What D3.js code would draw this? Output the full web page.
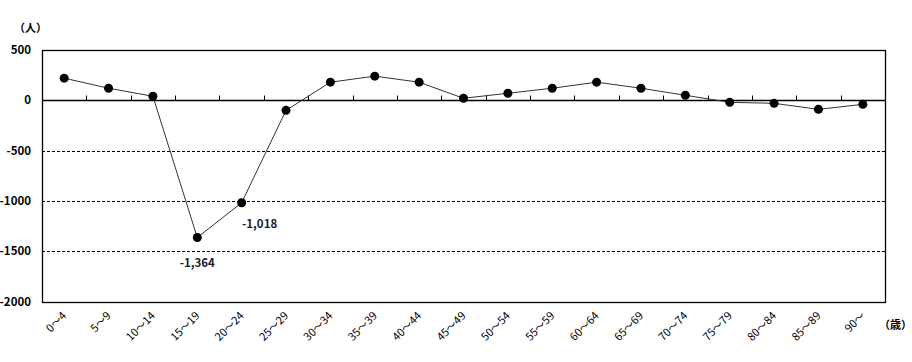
<!DOCTYPE html>
<html>
<head>
<meta charset="utf-8">
<script src="https://cdn.jsdelivr.net/npm/d3@7"></script>
<style>
body { margin: 0; background: #fff; }
text { font-family: "Noto Sans CJK JP", "DejaVu Sans", sans-serif; }
</style>
</head>
<body>
<div id="chart"></div>
<script>
const ageGroups = ["0～4", "5～9", "10～14", "15～19", "20～24", "25～29", "30～34", "35～39", "40～44",
    "45～49", "50～54", "55～59", "60～64", "65～69", "70～74", "75～79", "80～84", "85～89", "90～"];
const netChange = [220, 120, 40, -1364, -1018, -100, 180, 240, 180, 20, 70, 120, 180, 120, 50, -20, -30, -90, -40];
const yTicks = [500, 0, -500, -1000, -1500, -2000];
const gridValues = [-500, -1000, -1500];
const labelled = [3, 4];

const width = 912, height = 362;
const margin = {top: 50, right: 27, bottom: 60, left: 42};

const svg = d3.select("#chart")
    .append("svg")
    .attr("width", width)
    .attr("height", height);

const x = d3.scaleBand()
    .domain(ageGroups)
    .range([margin.left, width - margin.right]);

const y = d3.scaleLinear()
    .domain([-2000, 500])
    .range([height - margin.bottom - 0.5, margin.top]);

// dashed grid
svg.append("g")
    .selectAll("line")
    .data(gridValues)
    .join("line")
    .attr("x1", margin.left).attr("x2", width - margin.right)
    .attr("y1", d => Math.round(y(d)) + 0.5).attr("y2", d => Math.round(y(d)) + 0.5)
    .attr("stroke", "#000")
    .attr("stroke-dasharray", "3,2");

// frame
svg.append("rect")
    .attr("x", margin.left + 0.5)
    .attr("y", margin.top + 0.5)
    .attr("width", width - margin.left - margin.right)
    .attr("height", Math.round(y(-2000)) - margin.top)
    .attr("fill", "none")
    .attr("stroke", "#000")
    .attr("stroke-width", 1.3);

// zero line with ticks
const zeroY = Math.round(y(0)) + 0.5;
svg.append("line")
    .attr("x1", margin.left).attr("x2", width - margin.right)
    .attr("y1", zeroY).attr("y2", zeroY)
    .attr("stroke", "#000")
    .attr("stroke-width", 1.3);

svg.append("g")
    .selectAll("line")
    .data(ageGroups.slice(1))
    .join("line")
    .attr("x1", d => Math.round(x(d)) + 0.5).attr("x2", d => Math.round(x(d)) + 0.5)
    .attr("y1", zeroY - 5).attr("y2", zeroY)
    .attr("stroke", "#000");

// y labels
svg.append("g")
    .selectAll("text")
    .data(yTicks)
    .join("text")
    .attr("x", 31)
    .attr("y", d => y(d))
    .attr("dy", "0.35em")
    .attr("text-anchor", "end")
    .attr("font-size", 11.5)
    .attr("font-weight", "bold")
    .text(d => d);

// x labels
svg.append("g")
    .selectAll("text")
    .data(ageGroups)
    .join("text")
    .attr("text-anchor", "end")
    .attr("font-size", 11)
    .attr("transform", d => `translate(${x(d) + x.bandwidth() / 2 + 3},${y(-2000) + 15}) rotate(-45)`)
    .text(d => d);

// line and points
const line = d3.line()
    .x((d, i) => x(ageGroups[i]) + x.bandwidth() / 2)
    .y(d => y(d));

svg.append("path")
    .datum(netChange)
    .attr("d", line)
    .attr("fill", "none")
    .attr("stroke", "#333")
    .attr("stroke-width", 1);

svg.append("g")
    .selectAll("circle")
    .data(netChange)
    .join("circle")
    .attr("cx", (d, i) => x(ageGroups[i]) + x.bandwidth() / 2)
    .attr("cy", d => y(d))
    .attr("r", 4.5)
    .attr("fill", "#000");

// value labels
const fmt = d3.format(",");
svg.append("g")
    .selectAll("text")
    .data(labelled)
    .join("text")
    .attr("x", i => i === 3 ? x(ageGroups[i]) + x.bandwidth() / 2 : x(ageGroups[i]) + x.bandwidth() / 2 + 18)
    .attr("y", i => i === 3 ? y(netChange[i]) + 29 : y(netChange[i]) + 25)
    .attr("text-anchor", "middle")
    .attr("font-size", 11.5)
    .attr("font-weight", "bold")
    .attr("fill", "#1a1a33")
    .text(i => fmt(netChange[i]).replace("−", "-"));

// unit labels
svg.append("text")
    .attr("x", 14).attr("y", 32)
    .attr("font-size", 11)
    .attr("font-weight", "bold")
    .text("（人）");

svg.append("text")
    .attr("x", 879).attr("y", 329)
    .attr("font-size", 11)
    .attr("font-weight", "bold")
    .text("（歳）");
</script>
</body>
</html>
